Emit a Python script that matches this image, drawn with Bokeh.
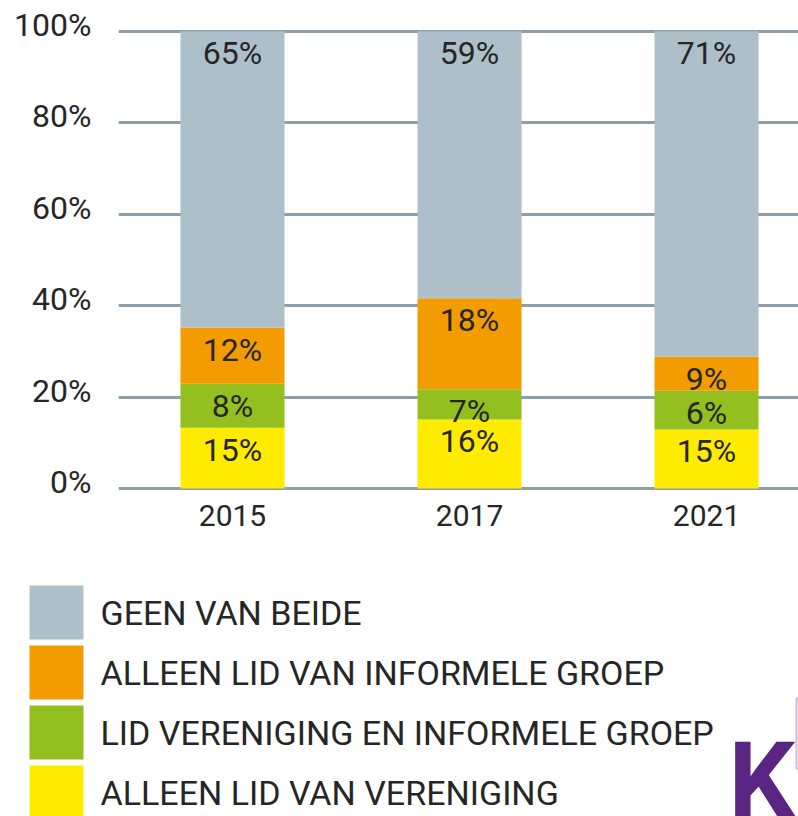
from bokeh.plotting import figure
from bokeh.models import (ColumnDataSource, Range1d, FixedTicker, PrintfTickFormatter,
                          LinearAxis, Label, BoxAnnotation)
from bokeh.layouts import column
from bokeh.core.properties import value
from bokeh.embed import file_html
from bokeh.resources import INLINE

# ---- data ----
years = ["2015", "2017", "2021"]
series = ["ALLEEN LID VAN VERENIGING", "LID VERENIGING EN INFORMELE GROEP",
          "ALLEEN LID VAN INFORMELE GROEP", "GEEN VAN BEIDE"]
colors = ["#ffeb00", "#93bf1f", "#f39c00", "#adbfc9"]
# drawn segment heights (percent of bar)
alleen_vereniging = [13.3, 15.1, 12.9]
vereniging_en_informeel = [9.6, 6.6, 8.5]
alleen_informeel = [12.3, 19.9, 7.4]
geen_van_beide = [64.8, 58.4, 71.2]
# printed labels
lbl_alleen_vereniging = [15, 16, 15]
lbl_vereniging_en_informeel = [8, 7, 6]
lbl_alleen_informeel = [12, 18, 9]
lbl_geen_van_beide = [65, 59, 71]
y_ticks = [0, 20, 40, 60, 80, 100]

FONT = value("Roboto")
TXT = "#262626"

xs = list(range(len(years)))
stack_keys = ["s0", "s1", "s2", "s3"]
vals = [alleen_vereniging, vereniging_en_informeel, alleen_informeel, geen_van_beide]
labels = [lbl_alleen_vereniging, lbl_vereniging_en_informeel, lbl_alleen_informeel, lbl_geen_van_beide]

src = ColumnDataSource(dict(x=xs, **{k: v for k, v in zip(stack_keys, vals)}))

PAD_B, PAD_T = 0.44, 1.9
p = figure(width=798, height=564, output_backend="svg", toolbar_location=None,
           x_range=Range1d(-0.481, 2.388), y_range=Range1d(-PAD_B, 100 + PAD_T),
           min_border_left=118, min_border_right=0, min_border_top=22, min_border_bottom=74)
p.outline_line_color = None
p.background_fill_color = "white"
p.border_fill_color = "white"

p.vbar_stack(stack_keys, x="x", width=0.439, color=colors, line_color=None, source=src)

# segment labels
lx, ly, lt = [], [], []
for i in xs:
    cum = 0.0
    for s in range(len(stack_keys)):
        cum += vals[s][i]
        lx.append(i)
        ly.append(cum)
        lt.append(f"{labels[s][i]}%")
p.text(x=lx, y=ly, text=lt, y_offset=22, text_align="center", text_baseline="middle",
       text_font=FONT, text_font_size="32px", text_color=TXT)

# grid
p.xgrid.visible = False
p.ygrid.ticker = FixedTicker(ticks=y_ticks)
p.ygrid.grid_line_color = "#8d9fa9"
p.ygrid.grid_line_width = 3

# y axis: labels sit slightly above their grid lines
p.yaxis.visible = False
LIFT = 1.4
p.extra_y_ranges = {"lbl": Range1d(-PAD_B - LIFT, 100 + PAD_T - LIFT)}
yax = LinearAxis(y_range_name="lbl", ticker=FixedTicker(ticks=y_ticks),
                 formatter=PrintfTickFormatter(format="%d%%"))
yax.axis_line_color = None
yax.major_tick_line_color = None
yax.minor_tick_line_color = None
yax.major_label_standoff = 21
yax.major_label_text_font = "Roboto"
yax.major_label_text_font_size = "32px"
yax.major_label_text_color = TXT
p.add_layout(yax, "left")

p.xaxis.ticker = FixedTicker(ticks=xs)
p.xaxis.major_label_overrides = {i: y for i, y in zip(xs, years)}
p.xaxis.axis_line_color = None
p.xaxis.major_tick_line_color = None
p.xaxis.minor_tick_line_color = None
p.xaxis.major_label_standoff = 8
p.xaxis.major_label_text_font = "Roboto"
p.xaxis.major_label_text_font_size = "30px"
p.xaxis.major_label_text_color = TXT

# ---- legend panel (pixel-based coordinates) ----
H2 = 252
p2 = figure(width=798, height=H2, output_backend="svg", toolbar_location=None,
            x_range=Range1d(0, 798), y_range=Range1d(0, H2),
            x_axis_location=None, y_axis_location=None,
            min_border=0, min_border_left=0, min_border_right=0,
            min_border_top=0, min_border_bottom=0)
p2.outline_line_color = None
p2.grid.visible = False
for fig in (p, p2):
    try:
        fig.frame_align = False
    except Exception:
        pass

ROW_TOP = 204   # centre of first legend row, measured from panel bottom
ROW_STEP = 60
leg_names = list(reversed(series))
leg_colors = list(reversed(colors))
leg_y = [ROW_TOP - ROW_STEP * i for i in range(len(leg_names))]
p2.rect(x=[56] * len(leg_names), y=leg_y, width=54, height=54,
        fill_color=leg_colors, line_color=None)
p2.text(x=[100] * len(leg_names), y=leg_y, text=leg_names, text_align="left",
        text_baseline="middle", text_font=FONT, text_font_size="34px", text_color=TXT)

p2.add_layout(Label(x=728, y=97, text="K",
                    text_font="Roboto", text_font_style="bold",
                    text_font_size="105px", text_color="#5b2583", text_baseline="top"))
p2.add_layout(BoxAnnotation(left=796, right=812, bottom=48, top=118, fill_alpha=0,
                            line_color="#5b2583", line_width=2))

layout = column(p, p2, spacing=0)
open("out.html", "w").write(file_html(layout, INLINE))
